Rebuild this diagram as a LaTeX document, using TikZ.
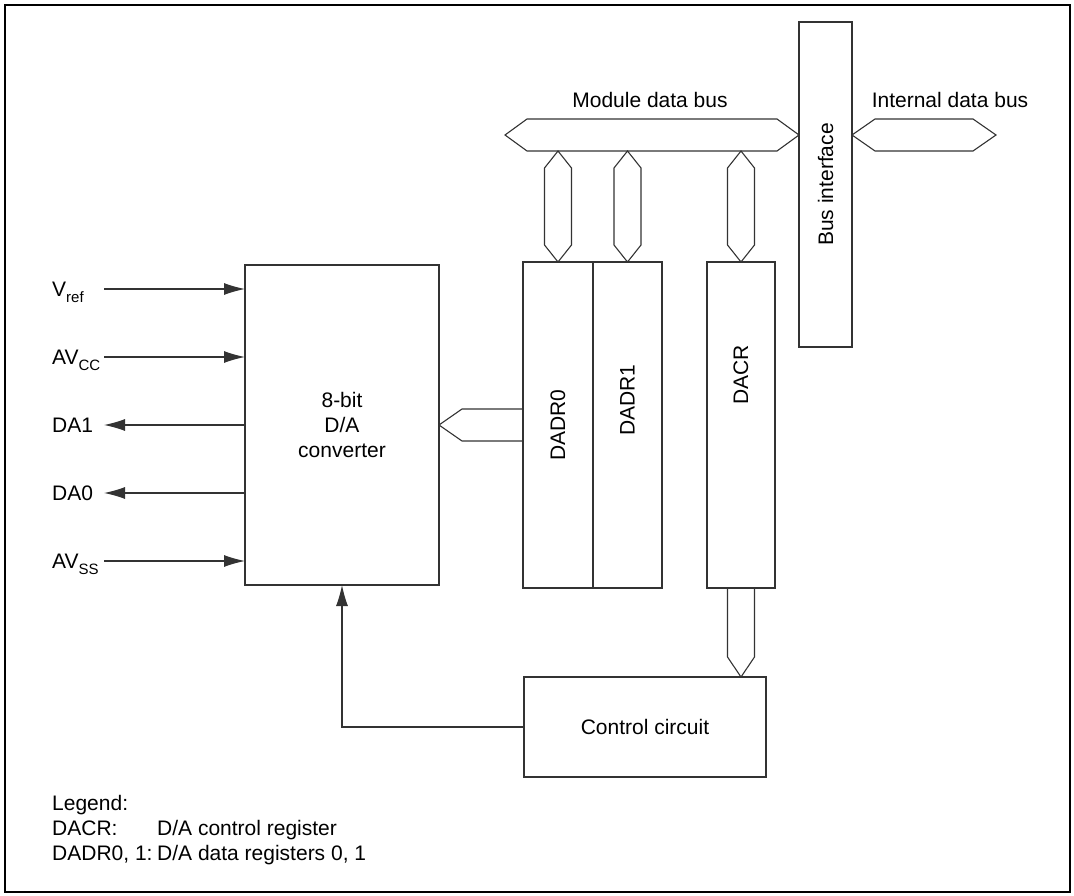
\documentclass[tikz,border=0pt]{standalone}
\usepackage{fontspec}
\setmainfont{Liberation Sans}
\usetikzlibrary{arrows.meta,calc}
\newcommand\subtxt[1]{\raisebox{-6pt}{\fontsize{15}{15}\selectfont #1}}
\newcommand\mkvbus[2]{\draw[bus] (#1) -- ($(#1)+(-13.5,-17)$) -- ($(#2)+(-13.5,17)$) -- (#2) -- ($(#2)+(13.5,17)$) -- ($(#1)+(13.5,-17)$) -- cycle;}
\begin{document}
\begin{tikzpicture}[x=1pt,y=-1pt,
  lbl/.style={font=\fontsize{21}{25}\selectfont, inner sep=0pt},
  box/.style={draw=black!80, line width=1.1pt, inner sep=0pt, outer sep=0pt},
  bus/.style={draw=black!80, line width=1.1pt, line join=miter},
  sig/.style={draw=black!80, line width=1.1pt, -{Latex[length=21pt,width=12pt]}},
]
\useasboundingbox (0,0) rectangle (1074,896);
\draw[line width=2.4pt] (5,5) rectangle (1070,892);

% blocks
\node[box, lbl, align=center, minimum width=194pt, minimum height=320pt] (conv) at (342,425) {8-bit\\D/A\\converter};
\node[box, minimum width=70pt, minimum height=326pt] (dadr0) at (558,425) {};
\node[box, minimum width=69pt, minimum height=326pt] (dadr1) at (627.5,425) {};
\node[box, minimum width=68pt, minimum height=326pt] (dacr) at (741,425) {};
\node[lbl, rotate=90] (t0) at (558,425) {DADR0};
\node[lbl, rotate=90] (t1) at (627.5,400) {DADR1};
\node[lbl, rotate=90] (t2) at (741,375) {DACR};
\node[box, minimum width=53pt, minimum height=325pt] (bif) at (825.5,184.5) {};
\node[lbl, rotate=90] (bift) at (bif.center) {Bus interface};
\node[box, lbl, minimum width=242pt, minimum height=100pt] (ctrl) at (645,727) {Control circuit};

% module data bus
\coordinate (mbL) at (505,135);
\coordinate (mbR) at (bif.west |- mbL);
\coordinate (mbS) at (505,151);
\draw[bus] (mbL) -- ($(mbL)+(22,-16)$) -- ($(mbR)+(-22,-16)$) -- (mbR) -- ($(mbR)+(-22,16)$) -- ($(mbL)+(22,16)$) -- cycle;
\node[lbl, anchor=base] (mbt) at (650,107.5) {Module data bus};

% internal data bus
\coordinate (ibR) at (996,135);
\coordinate (ibL) at (bif.east |- ibR);
\draw[bus] (ibL) -- ($(ibL)+(23,-16)$) -- ($(ibR)+(-23,-16)$) -- (ibR) -- ($(ibR)+(-23,16)$) -- ($(ibL)+(23,16)$) -- cycle;
\node[lbl, anchor=base] (ibt) at (950,107.5) {Internal data bus};

% vertical buses
\coordinate (v0) at (dadr0.north |- mbS);
\coordinate (v1) at (dadr1.north |- mbS);
\coordinate (v2) at (dacr.north |- mbS);
\mkvbus{dadr0.north}{v0}
\mkvbus{dadr1.north}{v1}
\mkvbus{dacr.north}{v2}

% DADR0 -> converter bus
\draw[bus] ($(dadr0.west)+(0,-16)$) -- ($(conv.east)+(23,-16)$) -- (conv.east) -- ($(conv.east)+(23,16)$) -- ($(dadr0.west)+(0,16)$);

% DACR -> control bus
\coordinate (cb) at (dacr.south |- ctrl.north);
\draw[bus] ($(dacr.south)+(-13.5,0)$) -- ($(cb)+(-13.5,-20)$) -- (cb) -- ($(cb)+(13.5,-20)$) -- ($(dacr.south)+(13.5,0)$);

% control -> converter
\draw[sig] (ctrl.west) -| (conv.south);

% pins
\coordinate (pvref) at (104,289);
\coordinate (pavcc) at (104,357);
\coordinate (pda1) at (104,425);
\coordinate (pda0) at (104,493);
\coordinate (pavss) at (104,561);
\draw[sig] (pvref) -- (pvref -| conv.west);
\draw[sig] (pavcc) -- (pavcc -| conv.west);
\draw[sig] (pda1 -| conv.west) -- (pda1);
\draw[sig] (pda0 -| conv.west) -- (pda0);
\draw[sig] (pavss) -- (pavss -| conv.west);
\node[lbl, anchor=base west] (lvref) at (52,296.5) {V\subtxt{ref}};
\node[lbl, anchor=base west] (lavcc) at (52,364.5) {AV\subtxt{CC}};
\node[lbl, anchor=base west] (lda1) at (52,432.5) {DA1};
\node[lbl, anchor=base west] (lda0) at (52,500.5) {DA0};
\node[lbl, anchor=base west] (lavss) at (52,568.5) {AV\subtxt{SS}};

% legend
\node[lbl, anchor=base west] (leg) at (52,810.5) {Legend:};
\node[lbl, anchor=base west] (leg1a) at (52,835.5) {DACR:};
\node[lbl, anchor=base west] (leg1b) at (157,835.5) {D/A control register};
\node[lbl, anchor=base west] (leg2a) at (52,860.5) {DADR0, 1:};
\node[lbl, anchor=base west] (leg2b) at (157,860.5) {D/A data registers 0, 1};
\end{tikzpicture}
\end{document}
